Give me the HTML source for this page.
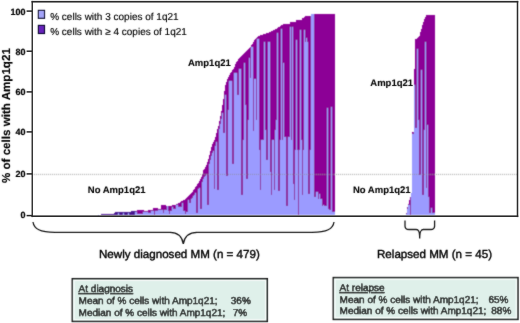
<!DOCTYPE html>
<html><head><meta charset="utf-8"><style>
html,body{margin:0;padding:0;background:#fff;}
svg{display:block;}
text{text-rendering:geometricPrecision;font-family:"Liberation Sans",Arial,sans-serif;fill:#000;stroke:#000;stroke-width:0.4px;paint-order:stroke;}
.tk{font-size:9px;font-weight:bold;text-anchor:end;stroke-width:0.2px;}
.lab{font-size:9.5px;font-weight:bold;stroke-width:0.1px;}
.leg{font-size:10px;stroke-width:0.15px;}
.grp{font-size:11.6px;}
.bx{font-size:10px;}
</style></head><body>
<svg width="520" height="323" viewBox="0 0 520 323">
<defs><filter id="bl" x="0" y="0" width="520" height="323" filterUnits="userSpaceOnUse"><feConvolveMatrix order="3" kernelMatrix="0.3 1 0.3 1 4 1 0.3 1 0.3" edgeMode="duplicate" preserveAlpha="false"/></filter><filter id="bl2" x="0" y="0" width="520" height="323" filterUnits="userSpaceOnUse"><feConvolveMatrix order="3" kernelMatrix="0.3 1 0.3 1 12 1 0.3 1 0.3" edgeMode="duplicate" preserveAlpha="false"/></filter></defs>
<rect width="520" height="323" fill="#fff"/>
<g filter="url(#bl)">
<g shape-rendering="crispEdges">
<rect x="97" y="214.8" width="1" height="0.6" fill="#9b9bff"/>
<rect x="98" y="214.7" width="1" height="0.8" fill="#9b9bff"/>
<rect x="99" y="214.5" width="1" height="0.9" fill="#9b9bff"/>
<rect x="100" y="214.5" width="1" height="0.9" fill="#9b9bff"/>
<rect x="101" y="214.4" width="1" height="0.1" fill="#4a1290"/>
<rect x="101" y="214.5" width="1" height="0.9" fill="#9b9bff"/>
<rect x="102" y="214.4" width="1" height="0.1" fill="#4a1290"/>
<rect x="102" y="214.5" width="1" height="0.9" fill="#9b9bff"/>
<rect x="103" y="214.4" width="1" height="0.1" fill="#4a1290"/>
<rect x="103" y="214.5" width="1" height="0.9" fill="#9b9bff"/>
<rect x="104" y="214.4" width="1" height="0.1" fill="#4a1290"/>
<rect x="104" y="214.5" width="1" height="0.9" fill="#9b9bff"/>
<rect x="105" y="214.3" width="1" height="0.2" fill="#4a1290"/>
<rect x="105" y="214.5" width="1" height="0.9" fill="#9b9bff"/>
<rect x="106" y="214.3" width="1" height="0.2" fill="#4a1290"/>
<rect x="106" y="214.5" width="1" height="0.9" fill="#9b9bff"/>
<rect x="107" y="214.3" width="1" height="0.2" fill="#4a1290"/>
<rect x="107" y="214.5" width="1" height="0.9" fill="#9b9bff"/>
<rect x="108" y="214.3" width="1" height="1.1" fill="#4a1290"/>
<rect x="109" y="214.2" width="1" height="0.3" fill="#4a1290"/>
<rect x="109" y="214.5" width="1" height="0.9" fill="#9b9bff"/>
<rect x="110" y="214.2" width="1" height="0.3" fill="#4a1290"/>
<rect x="110" y="214.5" width="1" height="0.9" fill="#9b9bff"/>
<rect x="111" y="214.2" width="1" height="0.3" fill="#4a1290"/>
<rect x="111" y="214.5" width="1" height="0.9" fill="#9b9bff"/>
<rect x="112" y="214.1" width="1" height="1.3" fill="#4a1290"/>
<rect x="113" y="214.1" width="1" height="0.4" fill="#4a1290"/>
<rect x="113" y="214.5" width="1" height="0.9" fill="#9b9bff"/>
<rect x="114" y="212.5" width="1" height="2.0" fill="#4a1290"/>
<rect x="114" y="214.5" width="1" height="0.9" fill="#9b9bff"/>
<rect x="115" y="211.6" width="1" height="2.9" fill="#4a1290"/>
<rect x="115" y="214.5" width="1" height="0.9" fill="#9b9bff"/>
<rect x="116" y="211.6" width="1" height="2.9" fill="#4a1290"/>
<rect x="116" y="214.5" width="1" height="0.9" fill="#9b9bff"/>
<rect x="117" y="211.6" width="1" height="2.9" fill="#4a1290"/>
<rect x="117" y="214.5" width="1" height="0.9" fill="#9b9bff"/>
<rect x="118" y="211.6" width="1" height="1.4" fill="#4a1290"/>
<rect x="118" y="213.0" width="1" height="2.4" fill="#9b9bff"/>
<rect x="119" y="211.6" width="1" height="2.9" fill="#4a1290"/>
<rect x="119" y="214.5" width="1" height="0.9" fill="#9b9bff"/>
<rect x="120" y="211.5" width="1" height="3.0" fill="#4a1290"/>
<rect x="120" y="214.5" width="1" height="0.9" fill="#9b9bff"/>
<rect x="121" y="211.5" width="1" height="3.0" fill="#4a1290"/>
<rect x="121" y="214.5" width="1" height="0.9" fill="#9b9bff"/>
<rect x="122" y="211.5" width="1" height="3.0" fill="#4a1290"/>
<rect x="122" y="214.5" width="1" height="0.9" fill="#9b9bff"/>
<rect x="123" y="211.5" width="1" height="1.5" fill="#4a1290"/>
<rect x="123" y="213.0" width="1" height="2.4" fill="#9b9bff"/>
<rect x="124" y="211.5" width="1" height="3.0" fill="#4a1290"/>
<rect x="124" y="214.5" width="1" height="0.9" fill="#9b9bff"/>
<rect x="125" y="211.5" width="1" height="3.0" fill="#4a1290"/>
<rect x="125" y="214.5" width="1" height="0.9" fill="#9b9bff"/>
<rect x="126" y="211.5" width="1" height="3.0" fill="#4a1290"/>
<rect x="126" y="214.5" width="1" height="0.9" fill="#9b9bff"/>
<rect x="127" y="211.5" width="1" height="3.0" fill="#4a1290"/>
<rect x="127" y="214.5" width="1" height="0.9" fill="#9b9bff"/>
<rect x="128" y="211.5" width="1" height="1.5" fill="#4a1290"/>
<rect x="128" y="213.0" width="1" height="2.4" fill="#9b9bff"/>
<rect x="129" y="211.5" width="1" height="3.0" fill="#4a1290"/>
<rect x="129" y="214.5" width="1" height="0.9" fill="#9b9bff"/>
<rect x="130" y="211.5" width="1" height="3.0" fill="#4a1290"/>
<rect x="130" y="214.5" width="1" height="0.9" fill="#9b9bff"/>
<rect x="131" y="211.4" width="1" height="3.1" fill="#4a1290"/>
<rect x="131" y="214.5" width="1" height="0.9" fill="#9b9bff"/>
<rect x="132" y="211.4" width="1" height="3.1" fill="#4a1290"/>
<rect x="132" y="214.5" width="1" height="0.9" fill="#9b9bff"/>
<rect x="133" y="211.4" width="1" height="3.1" fill="#4a1290"/>
<rect x="133" y="214.5" width="1" height="0.9" fill="#9b9bff"/>
<rect x="134" y="211.4" width="1" height="3.1" fill="#4a1290"/>
<rect x="134" y="214.5" width="1" height="0.9" fill="#9b9bff"/>
<rect x="135" y="211.4" width="1" height="1.0" fill="#4a1290"/>
<rect x="135" y="212.4" width="1" height="3.0" fill="#9b9bff"/>
<rect x="136" y="211.4" width="1" height="1.0" fill="#8c0096"/>
<rect x="136" y="212.4" width="1" height="3.0" fill="#9b9bff"/>
<rect x="137" y="209.8" width="1" height="3.7" fill="#8c0096"/>
<rect x="137" y="213.5" width="1" height="1.9" fill="#9b9bff"/>
<rect x="138" y="209.8" width="1" height="3.7" fill="#8c0096"/>
<rect x="138" y="213.5" width="1" height="1.9" fill="#9b9bff"/>
<rect x="139" y="209.8" width="1" height="3.7" fill="#8c0096"/>
<rect x="139" y="213.5" width="1" height="1.9" fill="#9b9bff"/>
<rect x="140" y="209.8" width="1" height="3.7" fill="#8c0096"/>
<rect x="140" y="213.5" width="1" height="1.9" fill="#9b9bff"/>
<rect x="141" y="209.8" width="1" height="3.7" fill="#8c0096"/>
<rect x="141" y="213.5" width="1" height="1.9" fill="#9b9bff"/>
<rect x="142" y="209.8" width="1" height="3.7" fill="#8c0096"/>
<rect x="142" y="213.5" width="1" height="1.9" fill="#9b9bff"/>
<rect x="143" y="210.4" width="1" height="1.2" fill="#8c0096"/>
<rect x="143" y="211.6" width="1" height="3.8" fill="#9b9bff"/>
<rect x="144" y="211.0" width="1" height="0.6" fill="#8c0096"/>
<rect x="144" y="211.6" width="1" height="3.8" fill="#9b9bff"/>
<rect x="145" y="211.0" width="1" height="0.6" fill="#8c0096"/>
<rect x="145" y="211.6" width="1" height="3.8" fill="#9b9bff"/>
<rect x="146" y="211.0" width="1" height="0.6" fill="#8c0096"/>
<rect x="146" y="211.6" width="1" height="3.8" fill="#9b9bff"/>
<rect x="147" y="211.0" width="1" height="0.6" fill="#8c0096"/>
<rect x="147" y="211.6" width="1" height="3.8" fill="#9b9bff"/>
<rect x="148" y="210.0" width="1" height="3.0" fill="#8c0096"/>
<rect x="148" y="213.0" width="1" height="2.4" fill="#9b9bff"/>
<rect x="149" y="210.0" width="1" height="3.0" fill="#8c0096"/>
<rect x="149" y="213.0" width="1" height="2.4" fill="#9b9bff"/>
<rect x="150" y="210.0" width="1" height="3.0" fill="#8c0096"/>
<rect x="150" y="213.0" width="1" height="2.4" fill="#9b9bff"/>
<rect x="151" y="210.0" width="1" height="0.8" fill="#8c0096"/>
<rect x="151" y="210.8" width="1" height="4.6" fill="#9b9bff"/>
<rect x="152" y="210.0" width="1" height="0.8" fill="#8c0096"/>
<rect x="152" y="210.8" width="1" height="4.6" fill="#9b9bff"/>
<rect x="153" y="207.6" width="1" height="2.9" fill="#8c0096"/>
<rect x="153" y="210.5" width="1" height="4.9" fill="#9b9bff"/>
<rect x="154" y="207.6" width="1" height="7.8" fill="#8c0096"/>
<rect x="155" y="207.6" width="1" height="2.9" fill="#8c0096"/>
<rect x="155" y="210.5" width="1" height="4.9" fill="#9b9bff"/>
<rect x="156" y="207.6" width="1" height="2.9" fill="#8c0096"/>
<rect x="156" y="210.5" width="1" height="4.9" fill="#9b9bff"/>
<rect x="157" y="207.6" width="1" height="2.9" fill="#8c0096"/>
<rect x="157" y="210.5" width="1" height="4.9" fill="#9b9bff"/>
<rect x="158" y="208.9" width="1" height="0.7" fill="#8c0096"/>
<rect x="158" y="209.6" width="1" height="5.8" fill="#9b9bff"/>
<rect x="159" y="208.8" width="1" height="0.8" fill="#8c0096"/>
<rect x="159" y="209.6" width="1" height="5.8" fill="#9b9bff"/>
<rect x="160" y="208.7" width="1" height="0.9" fill="#8c0096"/>
<rect x="160" y="209.6" width="1" height="5.8" fill="#9b9bff"/>
<rect x="161" y="205.3" width="1" height="4.7" fill="#8c0096"/>
<rect x="161" y="210.0" width="1" height="5.4" fill="#9b9bff"/>
<rect x="162" y="205.3" width="1" height="4.7" fill="#8c0096"/>
<rect x="162" y="210.0" width="1" height="5.4" fill="#9b9bff"/>
<rect x="163" y="205.4" width="1" height="7.6" fill="#8c0096"/>
<rect x="163" y="213.0" width="1" height="2.4" fill="#9b9bff"/>
<rect x="164" y="205.4" width="1" height="4.6" fill="#8c0096"/>
<rect x="164" y="210.0" width="1" height="5.4" fill="#9b9bff"/>
<rect x="165" y="205.4" width="1" height="4.6" fill="#8c0096"/>
<rect x="165" y="210.0" width="1" height="5.4" fill="#9b9bff"/>
<rect x="166" y="205.5" width="1" height="4.5" fill="#8c0096"/>
<rect x="166" y="210.0" width="1" height="5.4" fill="#9b9bff"/>
<rect x="167" y="205.5" width="1" height="0.5" fill="#8c0096"/>
<rect x="167" y="206.0" width="1" height="9.4" fill="#9b9bff"/>
<rect x="168" y="205.6" width="1" height="5.0" fill="#8c0096"/>
<rect x="168" y="210.6" width="1" height="4.8" fill="#9b9bff"/>
<rect x="169" y="205.7" width="1" height="7.9" fill="#8c0096"/>
<rect x="169" y="213.6" width="1" height="1.8" fill="#9b9bff"/>
<rect x="170" y="205.8" width="1" height="4.8" fill="#8c0096"/>
<rect x="170" y="210.6" width="1" height="4.8" fill="#9b9bff"/>
<rect x="171" y="206.0" width="1" height="4.6" fill="#8c0096"/>
<rect x="171" y="210.6" width="1" height="4.8" fill="#9b9bff"/>
<rect x="172" y="205.4" width="1" height="1.1" fill="#8c0096"/>
<rect x="172" y="206.5" width="1" height="8.9" fill="#9b9bff"/>
<rect x="173" y="205.1" width="1" height="3.7" fill="#8c0096"/>
<rect x="173" y="208.8" width="1" height="6.6" fill="#9b9bff"/>
<rect x="174" y="204.8" width="1" height="4.0" fill="#8c0096"/>
<rect x="174" y="208.8" width="1" height="6.6" fill="#9b9bff"/>
<rect x="175" y="204.5" width="1" height="4.3" fill="#8c0096"/>
<rect x="175" y="208.8" width="1" height="6.6" fill="#9b9bff"/>
<rect x="176" y="204.0" width="1" height="1.2" fill="#8c0096"/>
<rect x="176" y="205.2" width="1" height="10.2" fill="#9b9bff"/>
<rect x="177" y="203.6" width="1" height="1.6" fill="#8c0096"/>
<rect x="177" y="205.2" width="1" height="10.2" fill="#9b9bff"/>
<rect x="178" y="203.1" width="1" height="3.4" fill="#8c0096"/>
<rect x="178" y="206.5" width="1" height="8.9" fill="#9b9bff"/>
<rect x="179" y="202.6" width="1" height="3.9" fill="#8c0096"/>
<rect x="179" y="206.5" width="1" height="8.9" fill="#9b9bff"/>
<rect x="180" y="202.1" width="1" height="4.4" fill="#8c0096"/>
<rect x="180" y="206.5" width="1" height="8.9" fill="#9b9bff"/>
<rect x="181" y="201.4" width="1" height="5.1" fill="#8c0096"/>
<rect x="181" y="206.5" width="1" height="8.9" fill="#9b9bff"/>
<rect x="182" y="200.8" width="1" height="1.7" fill="#8c0096"/>
<rect x="182" y="202.5" width="1" height="12.9" fill="#9b9bff"/>
<rect x="183" y="200.2" width="1" height="10.8" fill="#8c0096"/>
<rect x="183" y="211.0" width="1" height="4.4" fill="#9b9bff"/>
<rect x="184" y="199.5" width="1" height="11.5" fill="#8c0096"/>
<rect x="184" y="211.0" width="1" height="4.4" fill="#9b9bff"/>
<rect x="185" y="198.9" width="1" height="15.1" fill="#8c0096"/>
<rect x="185" y="214.0" width="1" height="1.4" fill="#9b9bff"/>
<rect x="186" y="198.2" width="1" height="13.6" fill="#8c0096"/>
<rect x="186" y="211.8" width="1" height="3.6" fill="#9b9bff"/>
<rect x="187" y="197.3" width="1" height="14.5" fill="#8c0096"/>
<rect x="187" y="211.8" width="1" height="3.6" fill="#9b9bff"/>
<rect x="188" y="196.4" width="1" height="3.6" fill="#8c0096"/>
<rect x="188" y="200.0" width="1" height="15.4" fill="#9b9bff"/>
<rect x="189" y="195.2" width="1" height="7.6" fill="#8c0096"/>
<rect x="189" y="202.8" width="1" height="12.6" fill="#9b9bff"/>
<rect x="190" y="194.1" width="1" height="8.7" fill="#8c0096"/>
<rect x="190" y="202.8" width="1" height="12.6" fill="#9b9bff"/>
<rect x="191" y="192.9" width="1" height="5.6" fill="#8c0096"/>
<rect x="191" y="198.5" width="1" height="16.9" fill="#9b9bff"/>
<rect x="192" y="191.7" width="1" height="5.8" fill="#8c0096"/>
<rect x="192" y="197.5" width="1" height="17.9" fill="#9b9bff"/>
<rect x="193" y="190.3" width="1" height="5.9" fill="#8c0096"/>
<rect x="193" y="196.2" width="1" height="19.2" fill="#9b9bff"/>
<rect x="194" y="188.7" width="1" height="6.1" fill="#8c0096"/>
<rect x="194" y="194.8" width="1" height="20.6" fill="#9b9bff"/>
<rect x="195" y="187.1" width="1" height="6.2" fill="#8c0096"/>
<rect x="195" y="193.4" width="1" height="22.0" fill="#9b9bff"/>
<rect x="196" y="185.5" width="1" height="27.2" fill="#8c0096"/>
<rect x="196" y="212.7" width="1" height="2.7" fill="#9b9bff"/>
<rect x="197" y="184.0" width="1" height="28.7" fill="#8c0096"/>
<rect x="197" y="212.7" width="1" height="2.7" fill="#9b9bff"/>
<rect x="198" y="182.5" width="1" height="6.8" fill="#8c0096"/>
<rect x="198" y="189.2" width="1" height="26.2" fill="#9b9bff"/>
<rect x="199" y="180.8" width="1" height="6.9" fill="#8c0096"/>
<rect x="199" y="187.7" width="1" height="27.7" fill="#9b9bff"/>
<rect x="200" y="178.9" width="1" height="29.6" fill="#8c0096"/>
<rect x="200" y="208.5" width="1" height="6.9" fill="#9b9bff"/>
<rect x="201" y="176.8" width="1" height="31.7" fill="#8c0096"/>
<rect x="201" y="208.5" width="1" height="6.9" fill="#9b9bff"/>
<rect x="202" y="173.7" width="1" height="8.0" fill="#8c0096"/>
<rect x="202" y="181.7" width="1" height="33.7" fill="#9b9bff"/>
<rect x="203" y="170.3" width="1" height="8.4" fill="#8c0096"/>
<rect x="203" y="178.7" width="1" height="36.7" fill="#9b9bff"/>
<rect x="204" y="168.5" width="1" height="8.8" fill="#8c0096"/>
<rect x="204" y="177.3" width="1" height="38.1" fill="#9b9bff"/>
<rect x="205" y="166.6" width="1" height="9.0" fill="#8c0096"/>
<rect x="205" y="175.6" width="1" height="39.8" fill="#9b9bff"/>
<rect x="206" y="164.5" width="1" height="9.0" fill="#8c0096"/>
<rect x="206" y="173.5" width="1" height="41.9" fill="#9b9bff"/>
<rect x="207" y="162.0" width="1" height="42.9" fill="#8c0096"/>
<rect x="207" y="204.9" width="1" height="10.5" fill="#9b9bff"/>
<rect x="208" y="159.3" width="1" height="45.6" fill="#8c0096"/>
<rect x="208" y="204.9" width="1" height="10.5" fill="#9b9bff"/>
<rect x="209" y="155.4" width="1" height="9.0" fill="#8c0096"/>
<rect x="209" y="164.4" width="1" height="51.0" fill="#9b9bff"/>
<rect x="210" y="150.9" width="1" height="9.0" fill="#8c0096"/>
<rect x="210" y="159.9" width="1" height="55.5" fill="#9b9bff"/>
<rect x="211" y="146.8" width="1" height="9.0" fill="#8c0096"/>
<rect x="211" y="155.8" width="1" height="59.6" fill="#9b9bff"/>
<rect x="212" y="144.2" width="1" height="9.0" fill="#8c0096"/>
<rect x="212" y="153.2" width="1" height="62.2" fill="#9b9bff"/>
<rect x="213" y="141.9" width="1" height="9.0" fill="#8c0096"/>
<rect x="213" y="150.9" width="1" height="64.5" fill="#9b9bff"/>
<rect x="214" y="139.8" width="1" height="49.4" fill="#8c0096"/>
<rect x="214" y="189.2" width="1" height="26.2" fill="#9b9bff"/>
<rect x="215" y="136.8" width="1" height="8.9" fill="#8c0096"/>
<rect x="215" y="145.7" width="1" height="69.7" fill="#9b9bff"/>
<rect x="216" y="133.1" width="1" height="8.7" fill="#8c0096"/>
<rect x="216" y="141.8" width="1" height="73.6" fill="#9b9bff"/>
<rect x="217" y="129.4" width="1" height="60.6" fill="#8c0096"/>
<rect x="217" y="190.0" width="1" height="25.4" fill="#9b9bff"/>
<rect x="218" y="125.7" width="1" height="64.3" fill="#8c0096"/>
<rect x="218" y="190.0" width="1" height="25.4" fill="#9b9bff"/>
<rect x="219" y="120.9" width="1" height="8.1" fill="#8c0096"/>
<rect x="219" y="129.0" width="1" height="86.4" fill="#9b9bff"/>
<rect x="220" y="115.8" width="1" height="8.0" fill="#8c0096"/>
<rect x="220" y="123.8" width="1" height="91.6" fill="#9b9bff"/>
<rect x="221" y="110.6" width="1" height="8.1" fill="#8c0096"/>
<rect x="221" y="118.6" width="1" height="96.8" fill="#9b9bff"/>
<rect x="222" y="104.8" width="1" height="8.2" fill="#8c0096"/>
<rect x="222" y="113.0" width="1" height="102.4" fill="#9b9bff"/>
<rect x="223" y="98.7" width="1" height="34.3" fill="#8c0096"/>
<rect x="223" y="133.0" width="1" height="82.4" fill="#9b9bff"/>
<rect x="224" y="91.0" width="1" height="42.0" fill="#8c0096"/>
<rect x="224" y="133.0" width="1" height="82.4" fill="#9b9bff"/>
<rect x="225" y="85.2" width="1" height="9.3" fill="#8c0096"/>
<rect x="225" y="94.5" width="1" height="120.9" fill="#9b9bff"/>
<rect x="226" y="81.8" width="1" height="93.9" fill="#8c0096"/>
<rect x="226" y="175.7" width="1" height="39.7" fill="#9b9bff"/>
<rect x="227" y="79.0" width="1" height="96.7" fill="#8c0096"/>
<rect x="227" y="175.7" width="1" height="39.7" fill="#9b9bff"/>
<rect x="228" y="76.9" width="1" height="33.1" fill="#8c0096"/>
<rect x="228" y="110.0" width="1" height="105.4" fill="#9b9bff"/>
<rect x="229" y="74.9" width="1" height="6.0" fill="#8c0096"/>
<rect x="229" y="80.9" width="1" height="134.5" fill="#9b9bff"/>
<rect x="230" y="73.4" width="1" height="7.5" fill="#8c0096"/>
<rect x="230" y="80.9" width="1" height="134.5" fill="#9b9bff"/>
<rect x="231" y="71.9" width="1" height="9.0" fill="#8c0096"/>
<rect x="231" y="80.9" width="1" height="134.5" fill="#9b9bff"/>
<rect x="232" y="70.3" width="1" height="93.4" fill="#8c0096"/>
<rect x="232" y="163.7" width="1" height="51.7" fill="#9b9bff"/>
<rect x="233" y="68.5" width="1" height="95.2" fill="#8c0096"/>
<rect x="233" y="163.7" width="1" height="51.7" fill="#9b9bff"/>
<rect x="234" y="66.7" width="1" height="6.7" fill="#8c0096"/>
<rect x="234" y="73.4" width="1" height="142.0" fill="#9b9bff"/>
<rect x="235" y="63.9" width="1" height="9.5" fill="#8c0096"/>
<rect x="235" y="73.4" width="1" height="142.0" fill="#9b9bff"/>
<rect x="236" y="61.9" width="1" height="11.5" fill="#8c0096"/>
<rect x="236" y="73.4" width="1" height="142.0" fill="#9b9bff"/>
<rect x="237" y="60.6" width="1" height="33.9" fill="#8c0096"/>
<rect x="237" y="94.5" width="1" height="120.9" fill="#9b9bff"/>
<rect x="238" y="59.4" width="1" height="35.1" fill="#8c0096"/>
<rect x="238" y="94.5" width="1" height="120.9" fill="#9b9bff"/>
<rect x="239" y="58.4" width="1" height="10.1" fill="#8c0096"/>
<rect x="239" y="68.5" width="1" height="146.9" fill="#9b9bff"/>
<rect x="240" y="57.4" width="1" height="11.1" fill="#8c0096"/>
<rect x="240" y="68.5" width="1" height="146.9" fill="#9b9bff"/>
<rect x="241" y="56.4" width="1" height="139.0" fill="#8c0096"/>
<rect x="241" y="195.4" width="1" height="20.0" fill="#9b9bff"/>
<rect x="242" y="55.3" width="1" height="140.1" fill="#8c0096"/>
<rect x="242" y="195.4" width="1" height="20.0" fill="#9b9bff"/>
<rect x="243" y="54.3" width="1" height="85.7" fill="#8c0096"/>
<rect x="243" y="140.0" width="1" height="75.4" fill="#9b9bff"/>
<rect x="244" y="53.1" width="1" height="9.9" fill="#8c0096"/>
<rect x="244" y="63.0" width="1" height="152.4" fill="#9b9bff"/>
<rect x="245" y="51.9" width="1" height="52.7" fill="#8c0096"/>
<rect x="245" y="104.6" width="1" height="110.8" fill="#9b9bff"/>
<rect x="246" y="50.9" width="1" height="127.8" fill="#8c0096"/>
<rect x="246" y="178.7" width="1" height="36.7" fill="#9b9bff"/>
<rect x="247" y="50.1" width="1" height="128.6" fill="#8c0096"/>
<rect x="247" y="178.7" width="1" height="36.7" fill="#9b9bff"/>
<rect x="248" y="49.3" width="1" height="70.7" fill="#8c0096"/>
<rect x="248" y="120.0" width="1" height="95.4" fill="#9b9bff"/>
<rect x="249" y="48.1" width="1" height="9.9" fill="#8c0096"/>
<rect x="249" y="58.0" width="1" height="157.4" fill="#9b9bff"/>
<rect x="250" y="46.7" width="1" height="31.7" fill="#8c0096"/>
<rect x="250" y="78.4" width="1" height="137.0" fill="#9b9bff"/>
<rect x="251" y="45.1" width="1" height="2.2" fill="#8c0096"/>
<rect x="251" y="47.3" width="1" height="168.1" fill="#9b9bff"/>
<rect x="252" y="43.5" width="1" height="3.8" fill="#8c0096"/>
<rect x="252" y="47.3" width="1" height="168.1" fill="#9b9bff"/>
<rect x="253" y="41.9" width="1" height="89.4" fill="#8c0096"/>
<rect x="253" y="131.3" width="1" height="84.1" fill="#9b9bff"/>
<rect x="254" y="40.3" width="1" height="38.7" fill="#8c0096"/>
<rect x="254" y="79.0" width="1" height="136.4" fill="#9b9bff"/>
<rect x="255" y="38.9" width="1" height="40.1" fill="#8c0096"/>
<rect x="255" y="79.0" width="1" height="136.4" fill="#9b9bff"/>
<rect x="256" y="37.8" width="1" height="82.2" fill="#8c0096"/>
<rect x="256" y="120.0" width="1" height="95.4" fill="#9b9bff"/>
<rect x="257" y="36.6" width="1" height="2.4" fill="#8c0096"/>
<rect x="257" y="39.0" width="1" height="176.4" fill="#9b9bff"/>
<rect x="258" y="36.0" width="1" height="3.0" fill="#8c0096"/>
<rect x="258" y="39.0" width="1" height="176.4" fill="#9b9bff"/>
<rect x="259" y="35.7" width="1" height="114.3" fill="#8c0096"/>
<rect x="259" y="150.0" width="1" height="65.4" fill="#9b9bff"/>
<rect x="260" y="35.3" width="1" height="154.7" fill="#8c0096"/>
<rect x="260" y="190.0" width="1" height="25.4" fill="#9b9bff"/>
<rect x="261" y="34.9" width="1" height="105.1" fill="#8c0096"/>
<rect x="261" y="140.0" width="1" height="75.4" fill="#9b9bff"/>
<rect x="262" y="34.6" width="1" height="105.4" fill="#8c0096"/>
<rect x="262" y="140.0" width="1" height="75.4" fill="#9b9bff"/>
<rect x="263" y="34.3" width="1" height="105.7" fill="#8c0096"/>
<rect x="263" y="140.0" width="1" height="75.4" fill="#9b9bff"/>
<rect x="264" y="33.9" width="1" height="8.1" fill="#8c0096"/>
<rect x="264" y="42.0" width="1" height="173.4" fill="#9b9bff"/>
<rect x="265" y="33.6" width="1" height="96.4" fill="#8c0096"/>
<rect x="265" y="130.0" width="1" height="85.4" fill="#9b9bff"/>
<rect x="266" y="33.3" width="1" height="126.7" fill="#8c0096"/>
<rect x="266" y="160.0" width="1" height="55.4" fill="#9b9bff"/>
<rect x="267" y="33.0" width="1" height="127.0" fill="#8c0096"/>
<rect x="267" y="160.0" width="1" height="55.4" fill="#9b9bff"/>
<rect x="268" y="32.6" width="1" height="9.4" fill="#8c0096"/>
<rect x="268" y="42.0" width="1" height="173.4" fill="#9b9bff"/>
<rect x="269" y="32.2" width="1" height="9.8" fill="#8c0096"/>
<rect x="269" y="42.0" width="1" height="173.4" fill="#9b9bff"/>
<rect x="270" y="31.8" width="1" height="140.2" fill="#8c0096"/>
<rect x="270" y="172.0" width="1" height="43.4" fill="#9b9bff"/>
<rect x="271" y="31.4" width="1" height="163.6" fill="#8c0096"/>
<rect x="271" y="195.0" width="1" height="20.4" fill="#9b9bff"/>
<rect x="272" y="31.0" width="1" height="109.0" fill="#8c0096"/>
<rect x="272" y="140.0" width="1" height="75.4" fill="#9b9bff"/>
<rect x="273" y="30.3" width="1" height="109.7" fill="#8c0096"/>
<rect x="273" y="140.0" width="1" height="75.4" fill="#9b9bff"/>
<rect x="274" y="29.5" width="1" height="160.0" fill="#8c0096"/>
<rect x="274" y="189.5" width="1" height="25.9" fill="#9b9bff"/>
<rect x="275" y="29.0" width="1" height="101.0" fill="#8c0096"/>
<rect x="275" y="130.0" width="1" height="85.4" fill="#9b9bff"/>
<rect x="276" y="28.5" width="1" height="91.5" fill="#8c0096"/>
<rect x="276" y="120.0" width="1" height="95.4" fill="#9b9bff"/>
<rect x="277" y="28.0" width="1" height="4.9" fill="#8c0096"/>
<rect x="277" y="32.9" width="1" height="182.5" fill="#9b9bff"/>
<rect x="278" y="27.3" width="1" height="163.7" fill="#8c0096"/>
<rect x="278" y="191.0" width="1" height="24.4" fill="#9b9bff"/>
<rect x="279" y="26.6" width="1" height="164.4" fill="#8c0096"/>
<rect x="279" y="191.0" width="1" height="24.4" fill="#9b9bff"/>
<rect x="280" y="26.0" width="1" height="114.0" fill="#8c0096"/>
<rect x="280" y="140.0" width="1" height="75.4" fill="#9b9bff"/>
<rect x="281" y="25.2" width="1" height="3.5" fill="#8c0096"/>
<rect x="281" y="28.7" width="1" height="186.7" fill="#9b9bff"/>
<rect x="282" y="24.5" width="1" height="115.5" fill="#8c0096"/>
<rect x="282" y="140.0" width="1" height="75.4" fill="#9b9bff"/>
<rect x="283" y="24.4" width="1" height="38.1" fill="#8c0096"/>
<rect x="283" y="62.5" width="1" height="152.9" fill="#9b9bff"/>
<rect x="284" y="24.4" width="1" height="112.6" fill="#8c0096"/>
<rect x="284" y="137.0" width="1" height="78.4" fill="#9b9bff"/>
<rect x="285" y="24.4" width="1" height="112.6" fill="#8c0096"/>
<rect x="285" y="137.0" width="1" height="78.4" fill="#9b9bff"/>
<rect x="286" y="24.4" width="1" height="181.6" fill="#8c0096"/>
<rect x="286" y="206.0" width="1" height="9.4" fill="#9b9bff"/>
<rect x="287" y="24.4" width="1" height="181.6" fill="#8c0096"/>
<rect x="287" y="206.0" width="1" height="9.4" fill="#9b9bff"/>
<rect x="288" y="24.4" width="1" height="112.6" fill="#8c0096"/>
<rect x="288" y="137.0" width="1" height="78.4" fill="#9b9bff"/>
<rect x="289" y="24.4" width="1" height="112.6" fill="#8c0096"/>
<rect x="289" y="137.0" width="1" height="78.4" fill="#9b9bff"/>
<rect x="290" y="22.3" width="1" height="4.4" fill="#8c0096"/>
<rect x="290" y="26.7" width="1" height="188.7" fill="#9b9bff"/>
<rect x="291" y="22.3" width="1" height="117.7" fill="#8c0096"/>
<rect x="291" y="140.0" width="1" height="75.4" fill="#9b9bff"/>
<rect x="292" y="22.3" width="1" height="4.7" fill="#8c0096"/>
<rect x="292" y="27.0" width="1" height="188.4" fill="#9b9bff"/>
<rect x="293" y="22.3" width="1" height="161.7" fill="#8c0096"/>
<rect x="293" y="184.0" width="1" height="31.4" fill="#9b9bff"/>
<rect x="294" y="22.3" width="1" height="177.4" fill="#8c0096"/>
<rect x="294" y="199.7" width="1" height="15.7" fill="#9b9bff"/>
<rect x="295" y="22.3" width="1" height="127.7" fill="#8c0096"/>
<rect x="295" y="150.0" width="1" height="65.4" fill="#9b9bff"/>
<rect x="296" y="19.6" width="1" height="20.1" fill="#8c0096"/>
<rect x="296" y="39.7" width="1" height="175.7" fill="#9b9bff"/>
<rect x="297" y="19.6" width="1" height="130.4" fill="#8c0096"/>
<rect x="297" y="150.0" width="1" height="65.4" fill="#9b9bff"/>
<rect x="298" y="19.6" width="1" height="195.8" fill="#8c0096"/>
<rect x="299" y="19.6" width="1" height="130.4" fill="#8c0096"/>
<rect x="299" y="150.0" width="1" height="65.4" fill="#9b9bff"/>
<rect x="300" y="19.6" width="1" height="10.8" fill="#8c0096"/>
<rect x="300" y="30.4" width="1" height="185.0" fill="#9b9bff"/>
<rect x="301" y="19.6" width="1" height="120.4" fill="#8c0096"/>
<rect x="301" y="140.0" width="1" height="75.4" fill="#9b9bff"/>
<rect x="302" y="18.0" width="1" height="177.0" fill="#8c0096"/>
<rect x="302" y="195.0" width="1" height="20.4" fill="#9b9bff"/>
<rect x="303" y="18.0" width="1" height="132.0" fill="#8c0096"/>
<rect x="303" y="150.0" width="1" height="65.4" fill="#9b9bff"/>
<rect x="304" y="16.9" width="1" height="13.5" fill="#8c0096"/>
<rect x="304" y="30.4" width="1" height="185.0" fill="#9b9bff"/>
<rect x="305" y="15.8" width="1" height="25.8" fill="#8c0096"/>
<rect x="305" y="41.6" width="1" height="173.8" fill="#9b9bff"/>
<rect x="306" y="15.8" width="1" height="22.1" fill="#8c0096"/>
<rect x="306" y="37.9" width="1" height="177.5" fill="#9b9bff"/>
<rect x="307" y="15.8" width="1" height="25.8" fill="#8c0096"/>
<rect x="307" y="41.6" width="1" height="173.8" fill="#9b9bff"/>
<rect x="308" y="15.8" width="1" height="178.2" fill="#8c0096"/>
<rect x="308" y="194.0" width="1" height="21.4" fill="#9b9bff"/>
<rect x="309" y="15.8" width="1" height="178.2" fill="#8c0096"/>
<rect x="309" y="194.0" width="1" height="21.4" fill="#9b9bff"/>
<rect x="310" y="15.8" width="1" height="134.2" fill="#8c0096"/>
<rect x="310" y="150.0" width="1" height="65.4" fill="#9b9bff"/>
<rect x="311" y="13.5" width="1" height="201.9" fill="#9b9bff"/>
<rect x="312" y="13.5" width="1" height="201.9" fill="#9b9bff"/>
<rect x="313" y="13.5" width="1" height="201.9" fill="#9b9bff"/>
<rect x="314" y="13.5" width="1" height="183.5" fill="#8c0096"/>
<rect x="314" y="197.0" width="1" height="18.4" fill="#9b9bff"/>
<rect x="315" y="13.5" width="1" height="183.5" fill="#8c0096"/>
<rect x="315" y="197.0" width="1" height="18.4" fill="#9b9bff"/>
<rect x="316" y="13.5" width="1" height="178.5" fill="#8c0096"/>
<rect x="316" y="192.0" width="1" height="23.4" fill="#9b9bff"/>
<rect x="317" y="13.5" width="1" height="178.5" fill="#8c0096"/>
<rect x="317" y="192.0" width="1" height="23.4" fill="#9b9bff"/>
<rect x="318" y="13.5" width="1" height="185.5" fill="#8c0096"/>
<rect x="318" y="199.0" width="1" height="16.4" fill="#9b9bff"/>
<rect x="319" y="13.5" width="1" height="180.5" fill="#8c0096"/>
<rect x="319" y="194.0" width="1" height="21.4" fill="#9b9bff"/>
<rect x="320" y="13.5" width="1" height="185.5" fill="#8c0096"/>
<rect x="320" y="199.0" width="1" height="16.4" fill="#9b9bff"/>
<rect x="321" y="13.5" width="1" height="185.5" fill="#8c0096"/>
<rect x="321" y="199.0" width="1" height="16.4" fill="#9b9bff"/>
<rect x="322" y="13.5" width="1" height="192.5" fill="#8c0096"/>
<rect x="322" y="206.0" width="1" height="9.4" fill="#9b9bff"/>
<rect x="323" y="13.5" width="1" height="191.5" fill="#8c0096"/>
<rect x="323" y="205.0" width="1" height="10.4" fill="#9b9bff"/>
<rect x="324" y="13.5" width="1" height="192.5" fill="#8c0096"/>
<rect x="324" y="206.0" width="1" height="9.4" fill="#9b9bff"/>
<rect x="325" y="13.5" width="1" height="192.5" fill="#8c0096"/>
<rect x="325" y="206.0" width="1" height="9.4" fill="#9b9bff"/>
<rect x="326" y="13.5" width="1" height="192.5" fill="#8c0096"/>
<rect x="326" y="206.0" width="1" height="9.4" fill="#9b9bff"/>
<rect x="327" y="13.5" width="1" height="94.5" fill="#8c0096"/>
<rect x="327" y="108.0" width="1" height="107.4" fill="#9b9bff"/>
<rect x="328" y="13.5" width="1" height="195.5" fill="#8c0096"/>
<rect x="328" y="209.0" width="1" height="6.4" fill="#9b9bff"/>
<rect x="329" y="13.5" width="1" height="196.5" fill="#8c0096"/>
<rect x="329" y="210.0" width="1" height="5.4" fill="#9b9bff"/>
<rect x="330" y="13.5" width="1" height="196.5" fill="#8c0096"/>
<rect x="330" y="210.0" width="1" height="5.4" fill="#9b9bff"/>
<rect x="331" y="13.5" width="1" height="93.5" fill="#8c0096"/>
<rect x="331" y="107.0" width="1" height="108.4" fill="#9b9bff"/>
<rect x="332" y="13.5" width="1" height="198.5" fill="#8c0096"/>
<rect x="332" y="212.0" width="1" height="3.4" fill="#9b9bff"/>
<rect x="333" y="13.5" width="1" height="198.5" fill="#8c0096"/>
<rect x="333" y="212.0" width="1" height="3.4" fill="#9b9bff"/>
<rect x="334" y="13.5" width="1" height="198.5" fill="#8c0096"/>
<rect x="334" y="212.0" width="1" height="3.4" fill="#9b9bff"/>
<rect x="406" y="212.5" width="1" height="1.5" fill="#8c0096"/>
<rect x="406" y="214.0" width="1" height="1.4" fill="#9b9bff"/>
<rect x="407" y="207.4" width="1" height="1.6" fill="#8c0096"/>
<rect x="407" y="209.0" width="1" height="6.4" fill="#9b9bff"/>
<rect x="408" y="204.3" width="1" height="0.2" fill="#8c0096"/>
<rect x="408" y="204.5" width="1" height="10.9" fill="#9b9bff"/>
<rect x="409" y="199.9" width="1" height="5.1" fill="#8c0096"/>
<rect x="409" y="205.0" width="1" height="10.4" fill="#9b9bff"/>
<rect x="410" y="196.5" width="1" height="18.9" fill="#8c0096"/>
<rect x="411" y="192.7" width="1" height="22.7" fill="#9b9bff"/>
<rect x="412" y="131.8" width="1" height="1.7" fill="#8c0096"/>
<rect x="412" y="133.5" width="1" height="81.9" fill="#9b9bff"/>
<rect x="413" y="131.8" width="1" height="1.7" fill="#8c0096"/>
<rect x="413" y="133.5" width="1" height="81.9" fill="#9b9bff"/>
<rect x="414" y="68.7" width="1" height="16.3" fill="#8c0096"/>
<rect x="414" y="85.0" width="1" height="130.4" fill="#9b9bff"/>
<rect x="415" y="39.3" width="1" height="88.7" fill="#8c0096"/>
<rect x="415" y="128.0" width="1" height="87.4" fill="#9b9bff"/>
<rect x="416" y="38.6" width="1" height="89.4" fill="#8c0096"/>
<rect x="416" y="128.0" width="1" height="87.4" fill="#9b9bff"/>
<rect x="417" y="37.8" width="1" height="10.8" fill="#8c0096"/>
<rect x="417" y="48.6" width="1" height="166.8" fill="#9b9bff"/>
<rect x="418" y="37.0" width="1" height="83.0" fill="#8c0096"/>
<rect x="418" y="120.0" width="1" height="95.4" fill="#9b9bff"/>
<rect x="419" y="35.5" width="1" height="139.5" fill="#8c0096"/>
<rect x="419" y="175.0" width="1" height="40.4" fill="#9b9bff"/>
<rect x="420" y="31.5" width="1" height="143.5" fill="#8c0096"/>
<rect x="420" y="175.0" width="1" height="40.4" fill="#9b9bff"/>
<rect x="421" y="28.8" width="1" height="40.7" fill="#8c0096"/>
<rect x="421" y="69.5" width="1" height="145.9" fill="#9b9bff"/>
<rect x="422" y="25.1" width="1" height="169.9" fill="#8c0096"/>
<rect x="422" y="195.0" width="1" height="20.4" fill="#9b9bff"/>
<rect x="423" y="21.9" width="1" height="173.1" fill="#8c0096"/>
<rect x="423" y="195.0" width="1" height="20.4" fill="#9b9bff"/>
<rect x="424" y="19.0" width="1" height="111.0" fill="#8c0096"/>
<rect x="424" y="130.0" width="1" height="85.4" fill="#9b9bff"/>
<rect x="425" y="16.5" width="1" height="25.1" fill="#8c0096"/>
<rect x="425" y="41.6" width="1" height="173.8" fill="#9b9bff"/>
<rect x="426" y="14.5" width="1" height="173.5" fill="#8c0096"/>
<rect x="426" y="188.0" width="1" height="27.4" fill="#9b9bff"/>
<rect x="427" y="14.5" width="1" height="110.5" fill="#8c0096"/>
<rect x="427" y="125.0" width="1" height="90.4" fill="#9b9bff"/>
<rect x="428" y="14.5" width="1" height="182.5" fill="#8c0096"/>
<rect x="428" y="197.0" width="1" height="18.4" fill="#9b9bff"/>
<rect x="429" y="14.5" width="1" height="198.5" fill="#8c0096"/>
<rect x="429" y="213.0" width="1" height="2.4" fill="#9b9bff"/>
<rect x="430" y="14.5" width="1" height="198.5" fill="#8c0096"/>
<rect x="430" y="213.0" width="1" height="2.4" fill="#9b9bff"/>
<rect x="431" y="14.5" width="1" height="193.5" fill="#8c0096"/>
<rect x="431" y="208.0" width="1" height="7.4" fill="#9b9bff"/>
<rect x="432" y="14.5" width="1" height="198.5" fill="#8c0096"/>
<rect x="432" y="213.0" width="1" height="2.4" fill="#9b9bff"/>
<rect x="433" y="14.5" width="1" height="198.5" fill="#8c0096"/>
<rect x="433" y="213.0" width="1" height="2.4" fill="#9b9bff"/>
<rect x="434" y="14.5" width="1" height="198.5" fill="#8c0096"/>
<rect x="434" y="213.0" width="1" height="2.4" fill="#9b9bff"/>
</g>
<line x1="32" y1="174.4" x2="517" y2="174.4" stroke="#8a8a8a" stroke-width="0.8" stroke-dasharray="1,1"/>
</g>
<g filter="url(#bl2)">
<text x="25.6" y="14.6" class="tk">100</text>
<text x="25.6" y="54.7" class="tk">80</text>
<text x="25.6" y="95.4" class="tk">60</text>
<text x="25.6" y="135.4" class="tk">40</text>
<text x="25.6" y="177.4" class="tk">20</text>
<text x="25.6" y="217.5" class="tk">0</text>
<text transform="translate(10,115.6) rotate(-90)" text-anchor="middle" style="font-size:11.6px;font-weight:bold;stroke-width:0.15px">% of cells with Amp1q21</text>
<rect x="38.4" y="10.4" width="6.1" height="7.9" fill="#a4a4fa" stroke="#101030" stroke-width="1.2"/>
<rect x="38.4" y="25.4" width="6.1" height="8.1" fill="#6622bb" stroke="#101030" stroke-width="1.2"/>
<text x="50.2" y="19.8" class="leg">% cells with 3 copies of 1q21</text>
<text x="50.2" y="34.7" class="leg">% cells with ≥ 4 copies of 1q21</text>
<text x="188" y="66.4" class="lab">Amp1q21</text>
<text x="87.8" y="193.0" class="lab">No Amp1q21</text>
<text x="370.3" y="85.6" class="lab">Amp1q21</text>
<text x="352.9" y="193.2" class="lab">No Amp1q21</text>
<path d="M33,222 C34,229 40,232.3 55,232.3 L170,232.3 C178,232.3 182,236 183.3,243.8 C184.6,236 188.6,232.3 197,232.3 L312,232.3 C327,232.3 333,229 334,222" fill="none" stroke="#1a1a1a" stroke-width="1.3"/>
<path d="M405,220.4 L405,226 C405,228.5 406.5,229.5 409,229.5 L416,229.5 C418.5,229.5 419.7,231 419.7,238.4 C419.7,231 421,229.5 423.5,229.5 L430.6,229.5 C433,229.5 434.6,228.5 434.6,226 L434.6,220.4" fill="none" stroke="#1a1a1a" stroke-width="1.3"/>
<text x="99" y="257.7" class="grp">Newly diagnosed MM (n = 479)</text>
<text x="377" y="257.9" class="grp">Relapsed MM (n = 45)</text>
<rect x="72.3" y="278.7" width="195" height="42.7" fill="#dff0ea" stroke="#1a1a1a" stroke-width="1.5"/>
<rect x="74.1" y="280.5" width="191.4" height="39.1" fill="none" stroke="#fbfefd" stroke-width="1"/>
<text x="78.6" y="292.1" class="bx" text-decoration="underline">At diagnosis</text>
<text x="78.6" y="304.3" class="bx">Mean of % cells with Amp1q21;</text>
<text x="230.8" y="304.3" class="bx">36%</text>
<text x="78.6" y="315.5" class="bx">Median of % cells with Amp1q21;</text>
<text x="232.8" y="315.5" class="bx">7%</text>
<rect x="333.3" y="277.6" width="184.7" height="41.8" fill="#dff0ea" stroke="#1a1a1a" stroke-width="1.5"/>
<rect x="335.1" y="279.4" width="181.1" height="38.2" fill="none" stroke="#fbfefd" stroke-width="1"/>
<text x="339.6" y="291.1" class="bx" text-decoration="underline">At relapse</text>
<text x="339.6" y="302.7" class="bx">Mean of % cells with Amp1q21;</text>
<text x="488.5" y="302.7" class="bx">65%</text>
<text x="339.6" y="314.3" class="bx">Median of % cells with Amp1q21;</text>
<text x="491.3" y="314.3" class="bx">88%</text>
</g>
<g>
<rect x="31.55" y="0.9" width="1.4" height="216.2" fill="#2a2a2a"/>
<rect x="31.55" y="0.9" width="486.7" height="1.65" fill="#2a2a2a"/>
<rect x="516.75" y="0.9" width="1.5" height="216.2" fill="#2a2a2a"/>
<rect x="31.55" y="215.4" width="486.7" height="1.6" fill="#2a2a2a"/>
<rect x="26.6" y="10.35" width="5.4" height="1.5" fill="#262626"/>
<rect x="26.6" y="50.45" width="5.4" height="1.5" fill="#262626"/>
<rect x="26.6" y="91.15" width="5.4" height="1.5" fill="#262626"/>
<rect x="26.6" y="131.15" width="5.4" height="1.5" fill="#262626"/>
<rect x="26.6" y="173.15" width="5.4" height="1.5" fill="#262626"/>
<rect x="26.6" y="214.85" width="5.4" height="1.5" fill="#262626"/>
</g>
</svg>
</body></html>
